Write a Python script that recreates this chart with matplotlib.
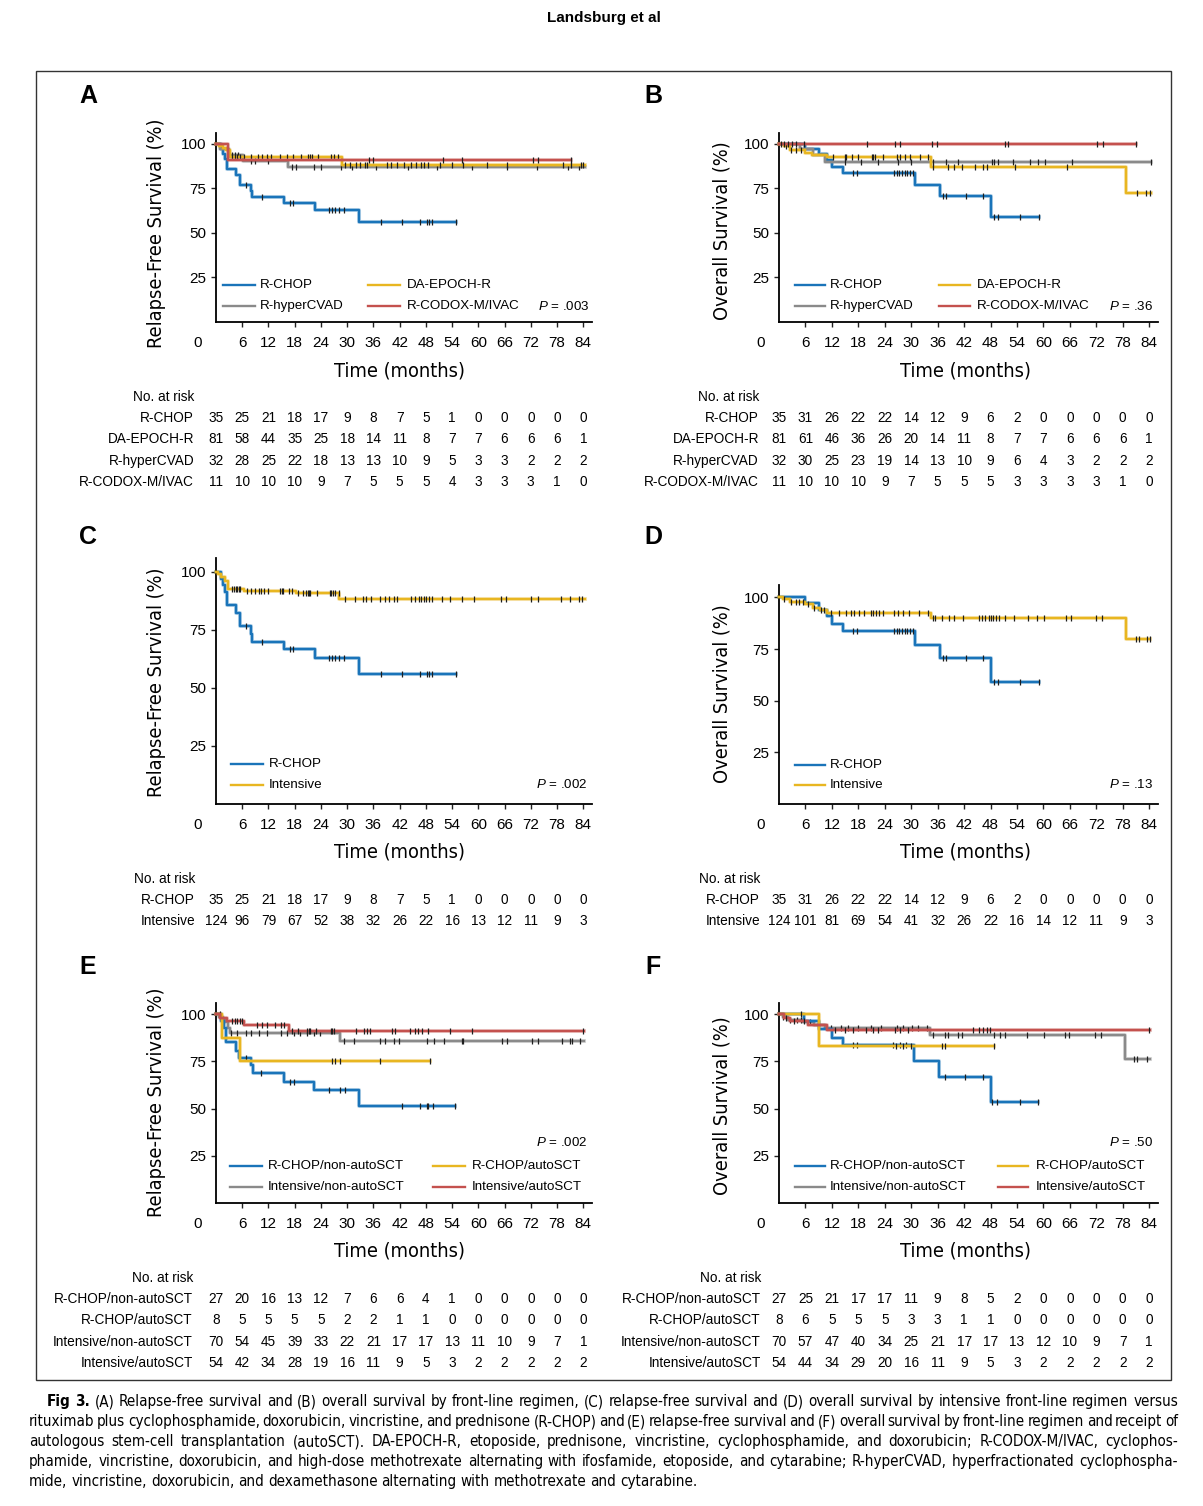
import numpy as np
import matplotlib
matplotlib.use("Agg")
import matplotlib.pyplot as plt
import matplotlib.patheffects as pe
import matplotlib.transforms as mtransforms
from matplotlib import font_manager
from matplotlib.patches import Rectangle

W, H = 1203, 1506

# ---------------- data ----------------
months = [0, 6, 12, 18, 24, 30, 36, 42, 48, 54, 60, 66, 72, 78, 84]

# relapse-free survival, by front-line regimen (A) / R-CHOP vs intensive (C)
rfs_rchop = dict(t=[0, 1.2, 1.7, 2.1, 2.5, 4.6, 5.4, 8.0, 8.3, 15.6, 22.6, 32.7],
                 s=[100, 97.1, 94.3, 91.4, 85.7, 82.4, 76.6, 73.2, 69.9, 66.6, 63.0, 56.0],
                 end=54.9,
                 cens=[6.8, 10.6, 16.9, 17.7, 25.8, 26.5, 27.3, 28.2, 29.3, 37.7, 42.5,
                       46.7, 48.2, 48.8, 49.4, 54.9])
rfs_epoch = dict(t=[0, 0.6, 1.5, 2.4, 3.1, 28.8],
                 s=[100, 98.8, 97.5, 96.2, 92.4, 88.0],
                 end=84.3,
                 cens=[3.7, 4.3, 4.9, 5.4, 6.4, 7.9, 9.7, 10.6, 11.6, 12.6, 14.6, 16.3, 17.6,
                       19.5, 21.0, 21.4, 22.0, 23.3, 26.3, 26.9, 27.8, 29.4, 30.7, 32.1, 32.9,
                       34.0, 34.5, 39.0, 40.0, 41.4, 42.9, 44.6, 45.8, 46.9, 47.6, 48.4, 51.3,
                       53.9, 56.6, 61.9, 66.5, 79.3, 81.3, 83.4, 84.0])
rfs_hcvad = dict(t=[0, 0.9, 3.0, 6.2, 16.4],
                 s=[100, 96.9, 93.8, 90.5, 86.9],
                 end=84.3,
                 cens=[3.6, 4.3, 5.0, 7.9, 9.0, 12.0, 17.4, 18.3, 22.5, 24.0, 28.5, 31.0,
                       36.5, 44.0, 50.5, 58.5, 66.5, 73.5, 80.5, 83.0])
rfs_codox = dict(t=[0, 2.8], s=[100, 90.9], end=81.2,
                 cens=[35.0, 35.8, 52.0, 56.2, 72.4, 73.7, 81.2])
rfs_intensive = dict(t=[0, 0.5, 1.2, 2.0, 2.7, 6.4, 18.2, 28.2],
                     s=[100, 99.2, 97.6, 96.0, 92.8, 91.9, 90.9, 88.4],
                     end=84.3,
                     cens=[3.7, 4.1, 4.5, 4.9, 5.2, 5.6, 7.0, 7.9, 9.0, 9.8, 10.2, 10.9, 11.9,
                           14.7, 15.1, 15.4, 16.6, 17.3, 18.8, 20.0, 20.5, 21.0, 21.3, 21.6,
                           23.0, 26.0, 26.4, 26.8, 27.3, 28.1, 29.4, 31.9, 33.6, 34.3, 35.5,
                           37.6, 38.6, 39.6, 40.7, 41.5, 44.5, 45.5, 46.4, 47.0, 47.5, 48.1,
                           48.7, 49.4, 51.8, 53.6, 56.2, 58.9, 65.3, 66.4, 72.1, 73.6, 78.9,
                           81.0, 83.0, 83.8])

# overall survival, by front-line regimen (B) / R-CHOP vs intensive (D)
os_rchop = dict(t=[0, 5.8, 9.0, 11.0, 12.0, 14.5, 30.8, 36.5, 48.1],
                s=[100, 97.1, 94.1, 90.9, 86.9, 83.7, 77.1, 70.9, 58.9],
                end=58.9,
                cens=[16.8, 17.7, 26.1, 26.7, 27.3, 27.9, 28.5, 29.1, 29.7, 30.3, 37.3, 37.8,
                      42.4, 46.4, 48.7, 49.6, 54.7, 58.9])
os_epoch = dict(t=[0, 1.2, 2.5, 6.0, 7.6, 11.0, 34.6, 78.8],
                s=[100, 98.8, 96.2, 94.6, 93.4, 92.7, 86.9, 72.4],
                end=84.4,
                cens=[1.6, 2.7, 3.9, 5.0, 12.2, 14.9, 15.3, 16.6, 17.9, 21.0, 21.3, 21.7, 23.5,
                      26.7, 27.4, 28.6, 29.7, 32.0, 33.9, 35.0, 38.4, 39.6, 41.5, 44.5, 46.4,
                      47.2, 53.6, 65.4, 81.3, 83.2, 84.2])
os_hcvad = dict(t=[0, 4.8, 7.8, 10.5], s=[100, 96.9, 93.7, 89.9], end=84.4,
                cens=[15.0, 18.5, 22.5, 27.0, 30.0, 35.0, 37.9, 40.7, 48.3, 48.7, 49.7, 53.2,
                      57.0, 58.8, 60.4, 66.5, 84.4])
os_codox = dict(t=[0], s=[100], end=81.0,
                cens=[0.5, 1.2, 2.0, 3.0, 3.9, 5.6, 20.0, 26.3, 27.4, 34.8, 35.8, 51.2, 51.9,
                      72.2, 73.6, 81.0])
os_intensive = dict(t=[0, 1.0, 2.4, 6.0, 7.7, 9.2, 10.8, 34.5, 78.8],
                    s=[100, 99.0, 97.9, 96.8, 95.1, 94.0, 92.5, 89.8, 80.1],
                    end=84.2,
                    cens=[1.2, 2.8, 3.9, 4.6, 5.4, 6.5, 8.0, 9.5, 10.1, 11.8, 13.7, 15.2, 16.4,
                          17.1, 18.2, 19.4, 20.9, 21.3, 22.0, 22.8, 23.5, 26.2, 26.9, 28.1,
                          29.6, 31.8, 33.7, 34.9, 35.5, 37.1, 38.6, 39.8, 41.7, 45.3, 46.1,
                          46.8, 47.6, 48.1, 48.5, 49.2, 50.0, 51.3, 53.4, 56.4, 58.5, 60.2,
                          65.1, 66.2, 71.9, 73.4, 80.9, 81.7, 83.6, 84.2])

# by front-line regimen and autoSCT: relapse-free (E)
rfs_rchop_non = dict(t=[0, 1.1, 1.9, 2.4, 4.5, 5.3, 8.0, 8.4, 15.5, 22.5, 32.6],
                     s=[100, 96.3, 92.6, 85.2, 80.7, 76.7, 73.1, 68.9, 64.3, 59.8, 51.2],
                     end=54.7,
                     cens=[6.8, 10.4, 16.9, 17.8, 25.8, 28.3, 29.4, 42.5, 46.7, 48.2, 48.6,
                           49.6, 54.7])
rfs_rchop_auto = dict(t=[0, 1.4, 5.4], s=[100, 87.5, 75.0], end=48.9,
                      cens=[0.9, 26.6, 27.3, 28.3, 37.6, 48.9])
rfs_int_non = dict(t=[0, 0.8, 1.6, 2.3, 2.8, 3.2, 28.3],
                   s=[100, 98.6, 97.1, 95.7, 92.8, 90.0, 85.8],
                   end=84.1,
                   cens=[3.5, 4.9, 6.8, 7.9, 9.8, 11.7, 14.8, 16.3, 17.8, 19.3, 20.9, 22.4,
                         23.9, 29.2, 31.5, 37.6, 38.7, 40.6, 41.8, 48.2, 49.8, 52.1, 56.2,
                         56.6, 65.4, 66.5, 72.2, 73.7, 79.1, 81.0, 81.4, 83.3])
rfs_int_auto = dict(t=[0, 1.0, 2.6, 6.5, 16.7], s=[100, 98.1, 96.3, 94.1, 91.1], end=84.1,
                    cens=[3.7, 4.3, 4.9, 5.5, 6.0, 9.3, 10.6, 11.7, 13.6, 14.8, 15.5, 17.4,
                          18.7, 20.9, 21.2, 21.6, 22.8, 26.2, 26.6, 27.0, 32.1, 33.8, 34.6,
                          35.3, 40.2, 41.0, 44.4, 45.6, 46.3, 47.1, 48.4, 53.6, 58.5, 84.0])

# by front-line regimen and autoSCT: overall (F)
os_rchop_non = dict(t=[0, 5.6, 9.0, 12.0, 14.5, 30.7, 36.4, 48.0],
                    s=[100, 96.3, 92.2, 87.6, 83.7, 75.2, 66.8, 53.4],
                    end=58.7,
                    cens=[16.8, 17.7, 25.9, 27.4, 28.9, 37.7, 42.2, 46.2, 48.3, 49.4, 54.6,
                          58.7])
os_rchop_auto = dict(t=[0, 9.0], s=[100, 83.3], end=48.8,
                     cens=[5.0, 26.6, 28.2, 29.9, 36.9, 37.7, 48.8])
os_int_non = dict(t=[0, 0.8, 2.0, 5.5, 8.0, 10.5, 34.3, 78.5],
                  s=[100, 98.6, 97.1, 95.7, 94.2, 92.8, 89.3, 76.5],
                  end=84.1,
                  cens=[1.0, 2.5, 4.0, 5.0, 7.0, 11.8, 14.1, 15.6, 17.9, 20.9, 23.2, 26.7,
                        28.2, 30.1, 31.6, 33.5, 35.0, 37.7, 38.4, 40.7, 41.5, 48.7, 50.2,
                        51.3, 56.3, 60.1, 65.0, 65.8, 71.8, 73.0, 80.6, 81.3, 83.6])
os_int_auto = dict(t=[0, 1.2, 2.5, 6.5, 10.9], s=[100, 98.1, 96.2, 94.1, 91.5], end=84.1,
                   cens=[1.5, 3.3, 5.7, 12.6, 14.9, 16.8, 19.8, 21.3, 22.5, 26.3, 27.4, 29.3,
                         44.1, 45.3, 46.2, 47.2, 47.9, 84.0])

# number at risk tables
risk_A = {"R-CHOP": [35, 25, 21, 18, 17, 9, 8, 7, 5, 1, 0, 0, 0, 0, 0],
          "DA-EPOCH-R": [81, 58, 44, 35, 25, 18, 14, 11, 8, 7, 7, 6, 6, 6, 1],
          "R-hyperCVAD": [32, 28, 25, 22, 18, 13, 13, 10, 9, 5, 3, 3, 2, 2, 2],
          "R-CODOX-M/IVAC": [11, 10, 10, 10, 9, 7, 5, 5, 5, 4, 3, 3, 3, 1, 0]}
risk_B = {"R-CHOP": [35, 31, 26, 22, 22, 14, 12, 9, 6, 2, 0, 0, 0, 0, 0],
          "DA-EPOCH-R": [81, 61, 46, 36, 26, 20, 14, 11, 8, 7, 7, 6, 6, 6, 1],
          "R-hyperCVAD": [32, 30, 25, 23, 19, 14, 13, 10, 9, 6, 4, 3, 2, 2, 2],
          "R-CODOX-M/IVAC": [11, 10, 10, 10, 9, 7, 5, 5, 5, 3, 3, 3, 3, 1, 0]}
risk_C = {"R-CHOP": [35, 25, 21, 18, 17, 9, 8, 7, 5, 1, 0, 0, 0, 0, 0],
          "Intensive": [124, 96, 79, 67, 52, 38, 32, 26, 22, 16, 13, 12, 11, 9, 3]}
risk_D = {"R-CHOP": [35, 31, 26, 22, 22, 14, 12, 9, 6, 2, 0, 0, 0, 0, 0],
          "Intensive": [124, 101, 81, 69, 54, 41, 32, 26, 22, 16, 14, 12, 11, 9, 3]}
risk_E = {"R-CHOP/non-autoSCT": [27, 20, 16, 13, 12, 7, 6, 6, 4, 1, 0, 0, 0, 0, 0],
          "R-CHOP/autoSCT": [8, 5, 5, 5, 5, 2, 2, 1, 1, 0, 0, 0, 0, 0, 0],
          "Intensive/non-autoSCT": [70, 54, 45, 39, 33, 22, 21, 17, 17, 13, 11, 10, 9, 7, 1],
          "Intensive/autoSCT": [54, 42, 34, 28, 19, 16, 11, 9, 5, 3, 2, 2, 2, 2, 2]}
risk_F = {"R-CHOP/non-autoSCT": [27, 25, 21, 17, 17, 11, 9, 8, 5, 2, 0, 0, 0, 0, 0],
          "R-CHOP/autoSCT": [8, 6, 5, 5, 5, 3, 3, 1, 1, 0, 0, 0, 0, 0, 0],
          "Intensive/non-autoSCT": [70, 57, 47, 40, 34, 25, 21, 17, 17, 13, 12, 10, 9, 7, 1],
          "Intensive/autoSCT": [54, 44, 34, 29, 20, 16, 11, 9, 5, 3, 2, 2, 2, 2, 2]}

p_values = {"A": ".003", "B": ".36", "C": ".002", "D": ".13", "E": ".002", "F": ".50"}

caption = [
    "Fig 3. (A) Relapse-free survival and (B) overall survival by front-line regimen, (C) relapse-free survival and (D) overall survival by intensive front-line regimen versus",
    "rituximab plus cyclophosphamide, doxorubicin, vincristine, and prednisone (R-CHOP) and (E) relapse-free survival and (F) overall survival by front-line regimen and receipt of",
    "autologous stem-cell transplantation (autoSCT). DA-EPOCH-R, etoposide, prednisone, vincristine, cyclophosphamide, and doxorubicin; R-CODOX-M/IVAC, cyclophos-",
    "phamide, vincristine, doxorubicin, and high-dose methotrexate alternating with ifosfamide, etoposide, and cytarabine; R-hyperCVAD, hyperfractionated cyclophospha-",
    "mide, vincristine, doxorubicin, and dexamethasone alternating with methotrexate and cytarabine.",
]

BLUE, YELLOW, GRAY, RED = "#1a74b9", "#e8b621", "#8a8a8a", "#c4514e"

# ---------------- fonts ----------------
entries = font_manager.fontManager.ttflist
names = {f.name for f in entries}
SANS = "Liberation Sans" if "Liberation Sans" in names else "DejaVu Sans"
NARROW, NSTRETCH = SANS, "normal"
condensed = [f for f in entries
             if f.style == "normal" and f.weight in (400, "normal", "regular")
             and ("Narrow" in f.name or "Condensed" in f.name
                  or f.stretch in ("condensed", "semi-condensed", "extra-condensed"))]
condensed.sort(key=lambda f: ("Liberation" not in f.name, "Sans" not in f.name, f.name))
if condensed:
    NARROW, NSTRETCH = condensed[0].name, condensed[0].stretch

plt.rcParams["font.family"] = [SANS, "DejaVu Sans"]
plt.rcParams["mathtext.fontset"] = "custom"
plt.rcParams["mathtext.it"] = SANS + ":italic"
plt.rcParams["mathtext.rm"] = SANS

fig = plt.figure(figsize=(W / 100, H / 100), dpi=100)
renderer = fig.canvas.get_renderer()
# reference-pixel transform (origin top-left)
PX = mtransforms.Affine2D().scale(1.0 / W, -1.0 / H).translate(0, 1) + fig.transFigure


def fit_size(text, target_px, **kw):
    t = fig.text(0, 0, text, fontsize=12, family=NARROW, fontstretch=NSTRETCH, **kw)
    w = t.get_window_extent(renderer).width
    t.remove()
    return 12 * target_px / w


label_fs = fit_size("Relapse-Free Survival (%)", 229)
cap_fs = fit_size(caption[-1], 671)


def add_panel(left, top, right, bottom):
    ax = fig.add_axes([left / W, 1 - bottom / H, (right - left) / W, (bottom - top) / H])
    ax.set_xlim(0, 86)
    ax.set_ylim(0, 106)
    ax.set_xticks(months[1:])
    ax.set_yticks([25, 50, 75, 100])
    ax.spines[["top", "right"]].set_visible(False)
    ax.spines[["left", "bottom"]].set_linewidth(1.3)
    ax.tick_params(direction="out", length=3.5, width=1.0, labelsize=11, color="#222222")
    ax.tick_params(axis="x", pad=6.5)
    ax.tick_params(axis="y", pad=3.5)
    ax.annotate("0", xy=(0, 0), xycoords="axes fraction", xytext=(-13, -10),
                textcoords="offset points", ha="center", va="top", fontsize=11)
    return ax


def km(ax, curve, color, z):
    t = list(curve["t"]) + [curve["end"]]
    s = list(curve["s"]) + [curve["s"][-1]]
    line, = ax.step(t, s, where="post", color=color, lw=1.7, zorder=z, clip_on=False)
    line.set_path_effects([pe.Stroke(linewidth=2.9, foreground=color, alpha=0.3), pe.Normal()])
    c = np.asarray(curve["cens"])
    idx = np.searchsorted(curve["t"], c, side="right") - 1
    ax.plot(c, np.asarray(curve["s"])[idx], ls="none", marker="|", ms=4.5, mew=0.9,
            color="#1e1e1e", zorder=z + 0.5, clip_on=False)


def legend(entries, rows_y, cols_x):
    # entries: (label, colour, col, row); cols_x: (line start, line end, text x)
    for label, color, col, row in entries:
        x0, x1, xt = cols_x[col]
        y = rows_y[row]
        fig.add_artist(plt.Line2D([x0, x1], [y, y], transform=PX, color=color, lw=1.7))
        fig.text(xt, y, label, transform=PX, fontsize=9.6, ha="left", va="center")


def p_text(letter, x, y):
    fig.text(x, y, r"$\mathit{P}$ = " + p_values[letter], transform=PX, fontsize=9.6,
             ha="right", va="center")


def risk_table(ax, table, head_y, rows_y, label_x):
    tr = mtransforms.blended_transform_factory(ax.transData, PX)
    fig.text(label_x, head_y, "No. at risk", transform=PX, fontsize=9.8, ha="right", va="center")
    for (name, vals), y in zip(table.items(), rows_y):
        fig.text(label_x, y, name, transform=PX, fontsize=9.8, ha="right", va="center")
        for m, v in zip(months, vals):
            ax.text(m, y, str(v), transform=tr, fontsize=9.8, ha="center", va="center",
                    clip_on=False)


def labels(letter, lx, ly, ylabel, yx, yy, xx, xy):
    fig.text(lx, ly, letter, transform=PX, fontsize=18, fontweight="bold", ha="center",
             va="center")
    fig.text(yx, yy, ylabel, transform=PX, fontsize=label_fs, family=NARROW,
             fontstretch=NSTRETCH, rotation=90, ha="center", va="center")
    fig.text(xx, xy, "Time (months)", transform=PX, fontsize=label_fs, family=NARROW,
             fontstretch=NSTRETCH, ha="center", va="center")


# ---------------- panel A ----------------
axA = add_panel(216, 133, 592, 322)
km(axA, rfs_rchop, BLUE, 2)
km(axA, rfs_hcvad, GRAY, 3)
km(axA, rfs_epoch, YELLOW, 4)
km(axA, rfs_codox, RED, 5)
labels("A", 88, 96, "Relapse-Free Survival (%)", 157, 233, 400, 371)
legend([("R-CHOP", BLUE, 0, 0), ("DA-EPOCH-R", YELLOW, 1, 0),
        ("R-hyperCVAD", GRAY, 0, 1), ("R-CODOX-M/IVAC", RED, 1, 1)],
       [285, 306], [(223, 255, 260), (368, 400, 407)])
p_text("A", 590, 306)
risk_table(axA, risk_A, 397, [418, 439, 461, 482], 194)

# ---------------- panel B ----------------
axB = add_panel(779, 133, 1158, 322)
km(axB, os_rchop, BLUE, 2)
km(axB, os_hcvad, GRAY, 3)
km(axB, os_epoch, YELLOW, 4)
km(axB, os_codox, RED, 5)
labels("B", 653, 96, "Overall Survival (%)", 722, 231, 965, 371)
legend([("R-CHOP", BLUE, 0, 0), ("DA-EPOCH-R", YELLOW, 1, 0),
        ("R-hyperCVAD", GRAY, 0, 1), ("R-CODOX-M/IVAC", RED, 1, 1)],
       [285, 306], [(795, 825, 830), (939, 970, 977)])
p_text("B", 1153, 306)
risk_table(axB, risk_B, 397, [418, 439, 461, 482], 759)

# ---------------- panel C ----------------
axC = add_panel(216, 558, 592, 804)
km(axC, rfs_rchop, BLUE, 2)
km(axC, rfs_intensive, YELLOW, 3)
labels("C", 88, 537, "Relapse-Free Survival (%)", 157, 682, 400, 852)
legend([("R-CHOP", BLUE, 0, 0), ("Intensive", YELLOW, 0, 1)],
       [764, 785], [(231, 263, 269)])
p_text("C", 588, 785)
risk_table(axC, risk_C, 879, [900, 921], 195)

# ---------------- panel D ----------------
axD = add_panel(779, 585, 1158, 804)
km(axD, os_rchop, BLUE, 2)
km(axD, os_intensive, YELLOW, 3)
labels("D", 653, 537, "Overall Survival (%)", 722, 694, 965, 852)
legend([("R-CHOP", BLUE, 0, 0), ("Intensive", YELLOW, 0, 1)],
       [765, 785], [(795, 825, 830)])
p_text("D", 1153, 785)
risk_table(axD, risk_D, 879, [900, 921], 760)

# ---------------- panel E ----------------
axE = add_panel(216, 1003, 592, 1203)
km(axE, rfs_rchop_non, BLUE, 3)
km(axE, rfs_int_non, GRAY, 2)
km(axE, rfs_rchop_auto, YELLOW, 4)
km(axE, rfs_int_auto, RED, 5)
labels("E", 88, 967, "Relapse-Free Survival (%)", 157, 1102, 400, 1251)
legend([("R-CHOP/non-autoSCT", BLUE, 0, 0), ("R-CHOP/autoSCT", YELLOW, 1, 0),
        ("Intensive/non-autoSCT", GRAY, 0, 1), ("Intensive/autoSCT", RED, 1, 1)],
       [1166, 1187], [(230, 262, 268), (433, 465, 472)])
p_text("E", 588, 1143)
risk_table(axE, risk_E, 1278, [1299, 1320, 1342, 1363], 193)

# ---------------- panel F ----------------
axF = add_panel(779, 1003, 1158, 1203)
km(axF, os_int_non, GRAY, 2)
km(axF, os_rchop_non, BLUE, 3)
km(axF, os_rchop_auto, YELLOW, 4)
km(axF, os_int_auto, RED, 5)
labels("F", 653, 967, "Overall Survival (%)", 722, 1106, 965, 1251)
legend([("R-CHOP/non-autoSCT", BLUE, 0, 0), ("R-CHOP/autoSCT", YELLOW, 1, 0),
        ("Intensive/non-autoSCT", GRAY, 0, 1), ("Intensive/autoSCT", RED, 1, 1)],
       [1166, 1187], [(795, 825, 830), (998, 1028, 1036)])
p_text("F", 1153, 1143)
risk_table(axF, risk_F, 1278, [1299, 1320, 1342, 1363], 761)

# ---------------- frame, header, caption ----------------
fig.add_artist(Rectangle((36, 71), 1135, 1309, transform=PX, fill=False, lw=1.0,
                         edgecolor="#333333"))
fig.text(604, 18, "Landsburg et al", transform=PX, fontsize=11, fontweight="bold",
         ha="center", va="center")


def caption_line(text, y, x0, x1, justify, bold_words=0):
    words = text.split(" ")
    objs = []
    for i, w in enumerate(words):
        objs.append(fig.text(x0, y, w, transform=PX, fontsize=cap_fs, family=NARROW,
                             fontstretch=NSTRETCH,
                             fontweight="bold" if i < bold_words else "normal",
                             ha="left", va="center"))
    widths = [o.get_window_extent(renderer).width for o in objs]
    natural = cap_fs * 100 / 72 * 0.26
    gap = natural
    if justify and len(objs) > 1:
        gap = (x1 - x0 - sum(widths)) / (len(objs) - 1)
    x = x0
    for o, wd in zip(objs, widths):
        o.set_x(x)
        x += wd + gap


cap_y = [1402, 1422, 1442, 1462, 1482]
for i, (line, y) in enumerate(zip(caption, cap_y)):
    caption_line(line, y, 47 if i == 0 else 29, 1178, i < len(caption) - 1,
                 bold_words=2 if i == 0 else 0)

fig.savefig("out.png", dpi=100)
